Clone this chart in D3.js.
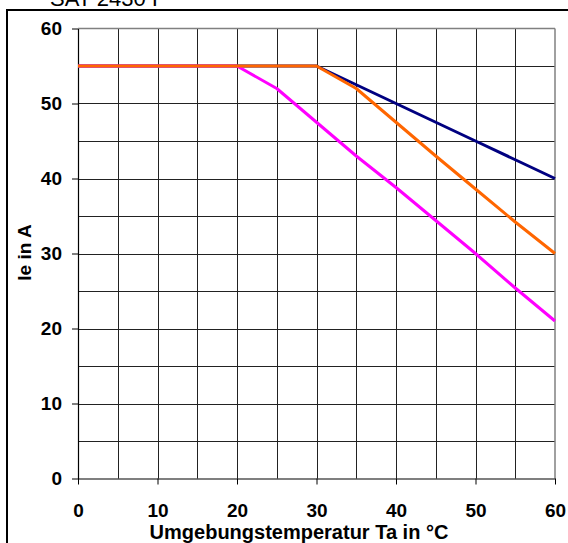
<!DOCTYPE html>
<html><head><meta charset="utf-8">
<script src="https://cdn.jsdelivr.net/npm/d3@7"></script>
<style>body{margin:0;background:#fff}svg{display:block}text{font-family:"Liberation Sans",Arial,sans-serif}</style>
</head><body><svg id="c" width="568" height="543"></svg>
<script>
const temps = [0, 5, 10, 15, 20, 25, 30, 35, 40, 45, 50, 55, 60];
const seriesNavy = [55, 55, 55, 55, 55, 55, 55, 52.5, 50, 47.5, 45, 42.5, 40];
const seriesMagenta = [55, 55, 55, 55, 55, 52, 47.5, 43, 38.8, 34.4, 30, 25.4, 21];
const seriesOrange = [55, 55, 55, 55, 55, 55, 55, 52, 47.5, 43, 38.6, 34.2, 30];
const xTicks = [0, 10, 20, 30, 40, 50, 60];
const yTicks = [0, 10, 20, 30, 40, 50, 60];
const gridVals = [5, 10, 15, 20, 25, 30, 35, 40, 45, 50, 55];
const title = "SAT 2430 F";
const xTitle = "Umgebungstemperatur Ta in °C";
const yTitle = "Ie in A";

const svg = d3.select("#c");
const x = d3.scaleLinear().domain([0, 60]).range([78, 555]);
const y = d3.scaleLinear().domain([0, 60]).range([478.5, 28.5]);

// outer frame
svg.append("rect").attr("x", 7).attr("y", 10).attr("width", 600).attr("height", 600)
  .attr("fill", "none").attr("stroke", "#000").attr("stroke-width", 2);
svg.append("text").attr("x", 50).attr("y", 6).attr("font-size", 22).text(title);

// grid
const g = svg.append("g");
g.selectAll(".vg").data(gridVals).join("line")
  .attr("x1", d => Math.round(x(d)) + 0.5).attr("x2", d => Math.round(x(d)) + 0.5)
  .attr("y1", y(60)).attr("y2", y(0)).attr("stroke", "#222").attr("stroke-width", 1);
g.selectAll(".hg").data(gridVals).join("line")
  .attr("y1", d => Math.round(y(d)) + 0.5).attr("y2", d => Math.round(y(d)) + 0.5)
  .attr("x1", x(0)).attr("x2", x(60)).attr("stroke", "#222").attr("stroke-width", 1);
// plot border top/right gray
svg.append("line").attr("x1", x(0)).attr("x2", x(60)).attr("y1", y(60)).attr("y2", y(60)).attr("stroke", "#808080").attr("stroke-width", 1.5);
svg.append("line").attr("x1", x(60)).attr("x2", x(60)).attr("y1", y(60)).attr("y2", y(0)).attr("stroke", "#808080").attr("stroke-width", 1.5);

// axes
const xAxis = d3.axisBottom(x).tickValues(xTicks).tickSize(6).tickPadding(10).tickSizeOuter(0);
const yAxis = d3.axisLeft(y).tickValues(yTicks).tickSize(6).tickPadding(10).tickSizeOuter(0);
const gx = svg.append("g").attr("transform", `translate(0,${y(0)})`).call(xAxis);
const gy = svg.append("g").attr("transform", `translate(${x(0)},0)`).call(yAxis);
[gx, gy].forEach(a => {
  a.select(".domain").attr("stroke", "#000").attr("stroke-width", 1.2);
  a.selectAll(".tick line").attr("stroke", "#000");
  a.selectAll("text").attr("font-size", 19).attr("font-weight", "bold").attr("fill", "#000")
    .style("font-family", '"Liberation Sans", Arial, sans-serif');
});
gx.selectAll("text").attr("y", 38.5).attr("dy", "0");

// series
const line = d3.line().x((d, i) => x(temps[i])).y(d => y(d));
const series = [[seriesNavy, "#000080"], [seriesMagenta, "#FF00FF"], [seriesOrange, "#FF6600"]];
series.forEach(([vals, col]) => {
  svg.append("path").datum(vals).attr("d", line).attr("fill", "none")
    .attr("stroke", col).attr("stroke-width", 3).attr("stroke-linejoin", "round");
});

// axis titles
svg.append("text").attr("x", 299).attr("y", 539).attr("text-anchor", "middle")
  .attr("font-size", 20).attr("font-weight", "bold").text(xTitle);
svg.append("text").attr("transform", "translate(31,252.5) rotate(-90)").attr("text-anchor", "middle")
  .attr("font-size", 19).attr("font-weight", "bold").text(yTitle);
</script></body></html>
